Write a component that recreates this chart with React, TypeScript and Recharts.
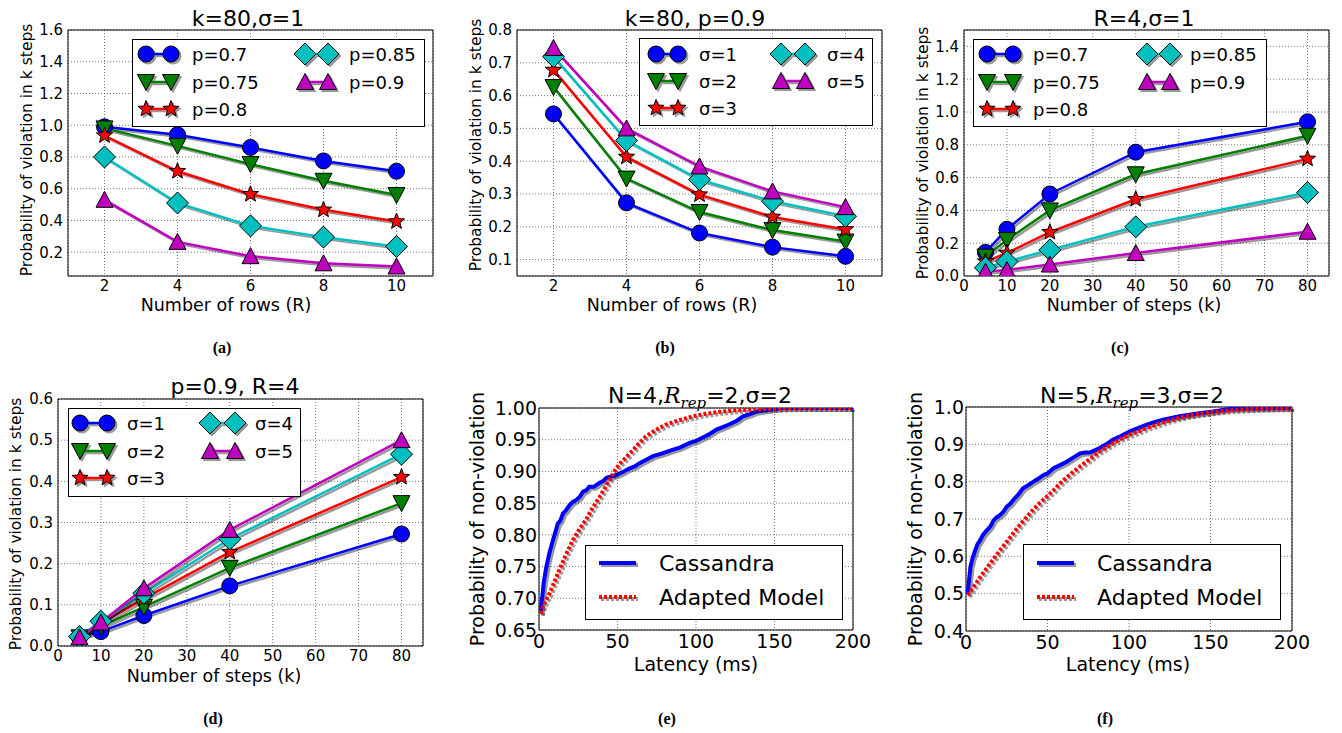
import React from 'react';
import { LineChart, Line, XAxis, YAxis, CartesianGrid, ReferenceArea, Legend } from 'recharts';

const FONT = "'DejaVu Sans', 'Noto Sans', sans-serif";
const BLUE = '#0000ff', GREEN = '#007f00', RED = '#ff0000', CYAN = '#00bfbf', MAGENTA = '#bf00bf';
const COLORS = [BLUE, GREEN, RED, CYAN, MAGENTA];
const SHAPES = ['o', 'v', '*', 'D', '^'];

// ---------- (a) k=80, sigma=1 ----------
const rowsR = [2, 4, 6, 8, 10];
const aP070 = [0.99, 0.94, 0.86, 0.775, 0.71];
const aP075 = [0.98, 0.87, 0.755, 0.65, 0.56];
const aP080 = [0.935, 0.71, 0.565, 0.467, 0.393];
const aP085 = [0.80, 0.51, 0.366, 0.295, 0.236];
const aP090 = [0.53, 0.265, 0.175, 0.13, 0.11];

// ---------- (b) k=80, p=0.9 ----------
const bS1 = [0.544, 0.273, 0.181, 0.138, 0.11];
const bS2 = [0.626, 0.347, 0.245, 0.19, 0.155];
const bS3 = [0.678, 0.413, 0.298, 0.23, 0.192];
const bS4 = [0.719, 0.463, 0.344, 0.278, 0.232];
const bS5 = [0.745, 0.50, 0.384, 0.308, 0.26];

// ---------- (c) R=4, sigma=1 ----------
const stepsK = [5, 10, 20, 40, 80];
const cP070 = [0.144, 0.285, 0.50, 0.755, 0.94];
const cP075 = [0.118, 0.22, 0.40, 0.62, 0.855];
const cP080 = [0.088, 0.14, 0.267, 0.468, 0.714];
const cP085 = [0.05, 0.088, 0.159, 0.30, 0.509];
const cP090 = [0.027, 0.037, 0.07, 0.14, 0.27];

// ---------- (d) p=0.9, R=4 ----------
const dS1 = [0.021, 0.035, 0.074, 0.146, 0.272];
const dS2 = [0.021, 0.047, 0.095, 0.19, 0.347];
const dS3 = [0.022, 0.055, 0.115, 0.228, 0.41];
const dS4 = [0.023, 0.06, 0.128, 0.26, 0.466];
const dS5 = [0.021, 0.057, 0.14, 0.282, 0.50];

const pLabels = ['p=0.7', 'p=0.75', 'p=0.8', 'p=0.85', 'p=0.9'];
const sLabels = ['σ=1', 'σ=2', 'σ=3', 'σ=4', 'σ=5'];

// ---------- (e) N=4, Rrep=2, sigma=2 ----------
const eCassandra = [
  [1, 0.676], [2, 0.70], [3, 0.725], [4.7, 0.75], [6.5, 0.77], [8.9, 0.792], [10.5, 0.805], [12, 0.818],
  [13.5, 0.822], [15.3, 0.834], [17, 0.838], [19.5, 0.847], [21.5, 0.852], [23.8, 0.855], [26, 0.86],
  [28, 0.868], [30, 0.87], [32, 0.876], [35, 0.876], [38.6, 0.882], [41, 0.885], [43, 0.89], [46, 0.892],
  [50, 0.895], [54, 0.9], [57.7, 0.905], [61, 0.908], [64, 0.913], [68, 0.918], [72.6, 0.924], [78, 0.928],
  [85, 0.934], [90, 0.938], [96, 0.945], [100, 0.948], [104, 0.953], [108, 0.958], [113, 0.966], [117, 0.97],
  [121, 0.974], [126, 0.98], [130, 0.987], [134, 0.99], [138, 0.994], [143, 0.996], [149, 0.998], [155, 1.0],
  [200, 1.0],
];
const eModel = [
  [1, 0.676], [3, 0.69], [6.8, 0.708], [10, 0.727], [13, 0.745], [17, 0.768], [21.7, 0.792], [26, 0.81],
  [30, 0.824], [34, 0.842], [38.6, 0.86], [42, 0.874], [45, 0.887], [48, 0.9], [51, 0.911], [55, 0.921],
  [60, 0.934], [64, 0.945], [68, 0.955], [74, 0.965], [81, 0.974], [87, 0.979], [94, 0.984], [100, 0.988],
  [106.6, 0.991], [115, 0.994], [123.6, 0.996], [138, 0.998], [150, 0.999], [170, 1.0], [200, 1.0],
];

// ---------- (f) N=5, Rrep=3, sigma=2 ----------
const fCassandra = [
  [1, 0.50], [2.7, 0.572], [4, 0.595], [5.7, 0.617], [7, 0.632], [8.8, 0.644], [10.5, 0.658], [12.9, 0.67],
  [15, 0.68], [17, 0.697], [19, 0.705], [21, 0.711], [23, 0.72], [25, 0.733], [27, 0.74], [29, 0.751],
  [32, 0.765], [35, 0.782], [38, 0.79], [41.4, 0.80], [44, 0.807], [47.6, 0.818], [50, 0.822], [53.7, 0.836],
  [58, 0.845], [62, 0.854], [66, 0.865], [70, 0.876], [73, 0.878], [76, 0.878], [79, 0.884], [82, 0.89],
  [86, 0.9], [90, 0.912], [95, 0.922], [100.6, 0.935], [105, 0.943], [111, 0.953], [116, 0.96], [121, 0.966],
  [131, 0.975], [141, 0.982], [151.6, 0.988], [162, 0.995], [175, 0.996], [200, 0.997],
];
const fModel = [
  [1, 0.496], [5, 0.52], [8.8, 0.545], [13, 0.57], [17, 0.594], [21, 0.617], [25, 0.639], [29, 0.662],
  [33, 0.684], [37, 0.704], [41, 0.724], [45, 0.742], [49.6, 0.76], [54, 0.778], [57.8, 0.796], [62, 0.812],
  [66, 0.827], [70, 0.841], [74, 0.854], [78, 0.867], [82, 0.881], [86, 0.892], [90, 0.903], [95, 0.915],
  [100.6, 0.926], [106, 0.935], [111, 0.944], [117, 0.953], [123, 0.962], [129, 0.969], [135, 0.975],
  [141, 0.98], [147.6, 0.984], [155, 0.988], [162, 0.991], [172, 0.994], [182, 0.996], [200, 0.997],
];
const cdfLabels = ['Cassandra', 'Adapted Model'];

// tick values
const xTicksR = [2, 4, 6, 8, 10];
const xTicksK = [0, 10, 20, 30, 40, 50, 60, 70, 80];
const xTicksLat = [0, 50, 100, 150, 200];
const yTicksA = [0.2, 0.4, 0.6, 0.8, 1.0, 1.2, 1.4, 1.6];
const yTicksB = [0.1, 0.2, 0.3, 0.4, 0.5, 0.6, 0.7, 0.8];
const yTicksC = [0, 0.2, 0.4, 0.6, 0.8, 1.0, 1.2, 1.4];
const yTicksD = [0, 0.1, 0.2, 0.3, 0.4, 0.5, 0.6];
const yTicksE = [0.65, 0.7, 0.75, 0.8, 0.85, 0.9, 0.95, 1.0];
const yTicksF = [0.4, 0.5, 0.6, 0.7, 0.8, 0.9, 1.0];

const rowsOf = (xs: number[], series: number[][]) =>
  xs.map((x, i) => {
    const r: any = { x };
    series.forEach((s, j) => { r['s' + j] = s[i]; });
    return r;
  });
const ptsOf = (arr: number[][]) => arr.map(([x, y]) => ({ x, y }));

function Marker({ shape, cx, cy, color }: any) {
  const st = { fill: color, stroke: '#000', strokeWidth: 1 };
  if (shape === 'o') return <circle cx={cx} cy={cy} r={8} {...st} />;
  if (shape === 'v') return <polygon points={`${cx - 8.5},${cy - 7.5} ${cx + 8.5},${cy - 7.5} ${cx},${cy + 8.5}`} {...st} />;
  if (shape === '^') return <polygon points={`${cx - 8.5},${cy + 7.5} ${cx + 8.5},${cy + 7.5} ${cx},${cy - 8.5}`} {...st} />;
  if (shape === 'D') return <polygon points={`${cx},${cy - 11} ${cx + 11},${cy} ${cx},${cy + 11} ${cx - 11},${cy}`} {...st} />;
  const pts: string[] = [];
  for (let i = 0; i < 10; i++) {
    const r = i % 2 === 0 ? 8.5 : 3.6;
    const a = -Math.PI / 2 + (i * Math.PI) / 5;
    pts.push(`${cx + r * Math.cos(a)},${cy + r * Math.sin(a)}`);
  }
  return <polygon points={pts.join(' ')} {...st} />;
}

const YW = 50, ML = 4, MR = 12, MT = 12, XH = 26, MB = 4;

type Plot = { l: number; t: number; w: number; h: number };

function MarkerLegend({ box, cols, rows, labels }: any) {
  return (
    <svg width={box.w + 2} height={box.h + 2} style={{ display: 'block', overflow: 'visible' }}>
      <rect x={0.5} y={0.5} width={box.w} height={box.h} fill="#fff" stroke="#000" strokeWidth={1} />
      {labels.map((lab: string, i: number) => {
        const c = cols[i < 3 ? 0 : 1];
        const y = rows[i < 3 ? i : i - 3];
        return (
          <g key={i}>
            <g style={{ filter: 'url(#shd)' }}>
              <line x1={c.m1} x2={c.m2} y1={y} y2={y} stroke={COLORS[i]} strokeWidth={2.5} />
              <Marker shape={SHAPES[i]} cx={c.m1} cy={y} color={COLORS[i]} />
              <Marker shape={SHAPES[i]} cx={c.m2} cy={y} color={COLORS[i]} />
            </g>
            <text x={c.tx} y={y + 6.5} fontSize={18} fontFamily={FONT} fill="#000">{lab}</text>
          </g>
        );
      })}
    </svg>
  );
}

function LineLegend({ box, rows }: any) {
  return (
    <svg width={box.w + 2} height={box.h + 2} style={{ display: 'block', overflow: 'visible' }}>
      <rect x={0.5} y={0.5} width={box.w} height={box.h} fill="#fff" stroke="#000" strokeWidth={1} />
      {cdfLabels.map((lab, i) => (
        <g key={i}>
          <g style={{ filter: 'url(#shd)' }}>
            <line x1={14} x2={51} y1={rows[i]} y2={rows[i]} stroke={i === 0 ? BLUE : RED} strokeWidth={4}
              strokeDasharray={i === 0 ? undefined : '3 2'} />
          </g>
          <text x={74} y={rows[i] + 8} fontSize={22} fontFamily={FONT} fill="#000">{lab}</text>
        </g>
      ))}
    </svg>
  );
}

function markerChart(opts: {
  plot: Plot; xs: number[]; series: number[][]; xDomain: number[]; xTicks: number[];
  yDomain: number[]; yTicks: number[]; legendBox: any; cols: any[]; rows: number[]; labels: string[];
}) {
  const { plot, xs, series, xDomain, xTicks, yDomain, yTicks, legendBox, cols, rows, labels } = opts;
  const left = plot.l - YW - ML, top = plot.t - MT;
  const width = plot.w + YW + ML + MR, height = plot.h + MT + XH + MB;
  const data = rowsOf(xs, series);
  const tick = { fill: '#000', fontSize: 15, fontFamily: FONT };
  return (
    <div style={{ position: 'absolute', left, top }}>
      <LineChart width={width} height={height} data={data} margin={{ top: MT, right: MR, bottom: MB, left: ML }}>
        <CartesianGrid stroke="#555" strokeDasharray="1 2" strokeWidth={0.8} />
        <XAxis dataKey="x" type="number" domain={xDomain} ticks={xTicks} allowDataOverflow interval={0}
          height={XH} tickLine={false} axisLine={false} tickSize={2} tickMargin={2} tick={tick} />
        <YAxis type="number" domain={yDomain} ticks={yTicks} allowDataOverflow interval={0} width={YW}
          tickLine={false} axisLine={false} tickSize={3} tickMargin={2} tick={tick}
          tickFormatter={(v: number) => v.toFixed(1)} />
        {series.map((_, j) => (
          <Line key={j} type="linear" dataKey={'s' + j} stroke={COLORS[j]} strokeWidth={2.5}
            isAnimationActive={false} activeDot={false}
            dot={(p: any) => <Marker key={'d' + j + '-' + p.index} shape={SHAPES[j]} cx={p.cx} cy={p.cy} color={COLORS[j]} />} />
        ))}
        <ReferenceArea x1={xDomain[0]} x2={xDomain[1]} y1={yDomain[0]} y2={yDomain[1]} fill="none" fillOpacity={0}
          stroke="#000" strokeWidth={1} />
        <Legend layout="horizontal" verticalAlign="middle" align="center"
          wrapperStyle={{ left: legendBox.x - left, top: legendBox.y - top, width: legendBox.w + 2, height: legendBox.h + 2 }}
          content={() => <MarkerLegend box={legendBox} cols={cols} rows={rows} labels={labels} />} />
      </LineChart>
    </div>
  );
}

function cdfChart(opts: { plot: Plot; cass: number[][]; model: number[][]; yDomain: number[]; yTicks: number[]; digits: number; legendBox: any; rows: number[] }) {
  const { plot, cass, model, yDomain, yTicks, digits, legendBox, rows } = opts;
  const ywE = YW + 10, mrE = 36;
  const left = plot.l - ywE - ML, top = plot.t - MT;
  const width = plot.w + ywE + ML + mrE, height = plot.h + MT + XH + MB;
  const tick = { fill: '#000', fontSize: 19, fontFamily: FONT };
  return (
    <div style={{ position: 'absolute', left, top }}>
      <LineChart width={width} height={height} margin={{ top: MT, right: mrE, bottom: MB, left: ML }}>
        <CartesianGrid stroke="#555" strokeDasharray="1 2" strokeWidth={0.8} />
        <XAxis dataKey="x" type="number" domain={[0, 200]} ticks={xTicksLat} allowDataOverflow interval={0}
          height={XH} tickLine={false} axisLine={false} tickSize={3} tickMargin={2} tick={tick} />
        <YAxis type="number" domain={yDomain} ticks={yTicks} allowDataOverflow interval={0} width={ywE}
          tickLine={false} axisLine={false} tickSize={1} tickMargin={1} tick={tick}
          tickFormatter={(v: number) => v.toFixed(digits)} />
        <Line data={ptsOf(cass)} dataKey="y" type="linear" stroke={BLUE} strokeWidth={4} dot={false}
          activeDot={false} isAnimationActive={false} />
        <Line data={ptsOf(model)} dataKey="y" type="linear" stroke={RED} strokeWidth={4} strokeDasharray="3 2"
          dot={false} activeDot={false} isAnimationActive={false} />
        <ReferenceArea x1={0} x2={200} y1={yDomain[0]} y2={yDomain[1]} fill="none" fillOpacity={0}
          stroke="#000" strokeWidth={1} />
        <Legend layout="horizontal" verticalAlign="middle" align="center"
          wrapperStyle={{ left: legendBox.x - left, top: legendBox.y - top, width: legendBox.w + 2, height: legendBox.h + 2 }}
          content={() => <LineLegend box={legendBox} rows={rows} />} />
      </LineChart>
    </div>
  );
}

const T = (p: any) => <text fontFamily={FONT} fill="#000" textAnchor="middle" {...p} />;
const YL = ({ x, y, fs, children }: any) => (
  <text x={x} y={y} fontSize={fs} fontFamily={FONT} fill="#000" textAnchor="middle" transform={`rotate(-90 ${x} ${y})`}>{children}</text>
);
const CAP = ({ x, y, children }: any) => (
  <text x={x} y={y} fontSize={16} fontFamily="'Liberation Serif', 'Times New Roman', serif" fontWeight="bold" fill="#000" textAnchor="middle">{children}</text>
);

const Rrep = ({ n }: { n: string }) => (
  <>
    <tspan fontFamily="'DejaVu Serif', serif" fontStyle="italic">R</tspan>
    <tspan fontFamily="'DejaVu Serif', serif" fontStyle="italic" fontSize={15} dy={5}>rep</tspan>
    <tspan dy={-5}>{'=' + n + ',σ=2'}</tspan>
  </>
);

export default function App() {
  const ylab = 'Probability of violation in k steps';
  const ylab2 = 'Probability of non-violation';
  return (
    <div style={{ position: 'absolute', left: 0, top: 0, width: 1342, height: 733, background: '#fff', overflow: 'hidden' }}>
      <style>{`.recharts-line { filter: url(#shd); }`}</style>
      <svg width={1342} height={733} style={{ position: 'absolute', left: 0, top: 0 }}>
        <defs>
          <filter id="shd" filterUnits="userSpaceOnUse" x={-2000} y={-2000} width={6000} height={6000}>
            <feOffset in="SourceAlpha" dx={1.8} dy={1.8} result="off" />
            <feFlood floodColor="#000" floodOpacity={0.4} result="col" />
            <feComposite in="col" in2="off" operator="in" result="sh" />
            <feMerge>
              <feMergeNode in="sh" />
              <feMergeNode in="SourceGraphic" />
            </feMerge>
          </filter>
        </defs>
        {/* titles */}
        <T x={248} y={26} fontSize={22}>k=80,σ=1</T>
        <T x={695} y={26} fontSize={22}>k=80, p=0.9</T>
        <T x={1144} y={26} fontSize={22}>R=4,σ=1</T>
        <T x={235} y={394} fontSize={22}>p=0.9, R=4</T>
        <T x={700} y={403} fontSize={22}>N=4,<Rrep n="2" /></T>
        <T x={1132} y={403} fontSize={22}>N=5,<Rrep n="3" /></T>
        {/* x labels */}
        <T x={226} y={311} fontSize={17.5}>Number of rows (R)</T>
        <T x={672} y={311} fontSize={17.5}>Number of rows (R)</T>
        <T x={1134} y={311} fontSize={17.5}>Number of steps (k)</T>
        <T x={214} y={682} fontSize={17.5}>Number of steps (k)</T>
        <T x={696} y={671} fontSize={19}>Latency (ms)</T>
        <T x={1128} y={671} fontSize={19}>Latency (ms)</T>
        {/* y labels */}
        <YL x={32} y={150} fs={15.5}>{ylab}</YL>
        <YL x={481} y={145} fs={15.5}>{ylab}</YL>
        <YL x={928} y={153} fs={15.5}>{ylab}</YL>
        <YL x={21} y={524} fs={15.5}>{ylab}</YL>
        <YL x={484} y={519} fs={19}>{ylab2}</YL>
        <YL x={922} y={519} fs={19}>{ylab2}</YL>
        {/* captions */}
        <CAP x={222} y={353}>(a)</CAP>
        <CAP x={665} y={353}>(b)</CAP>
        <CAP x={1120} y={353}>(c)</CAP>
        <CAP x={213} y={724}>(d)</CAP>
        <CAP x={667} y={724}>(e)</CAP>
        <CAP x={1105} y={724}>(f)</CAP>
      </svg>

      {markerChart({
        plot: { l: 68, t: 30, w: 365, h: 246 }, xs: rowsR, series: [aP070, aP075, aP080, aP085, aP090],
        xDomain: [1, 11], xTicks: xTicksR, yDomain: [0.05, 1.6], yTicks: yTicksA,
        legendBox: { x: 132, y: 39, w: 292, h: 87 },
        cols: [{ m1: 14, m2: 39, tx: 60 }, { m1: 173, m2: 196, tx: 217 }], rows: [15, 43, 70], labels: pLabels,
      })}
      {markerChart({
        plot: { l: 517, t: 30, w: 365, h: 246 }, xs: rowsR, series: [bS1, bS2, bS3, bS4, bS5],
        xDomain: [1, 11], xTicks: xTicksR, yDomain: [0.05, 0.8], yTicks: yTicksB,
        legendBox: { x: 639, y: 38, w: 233, h: 87 },
        cols: [{ m1: 17, m2: 39, tx: 60 }, { m1: 142, m2: 166, tx: 188 }], rows: [16, 43, 70], labels: sLabels,
      })}
      {markerChart({
        plot: { l: 964, t: 30, w: 365, h: 246 }, xs: stepsK, series: [cP070, cP075, cP080, cP085, cP090],
        xDomain: [0, 85], xTicks: xTicksK, yDomain: [0, 1.5], yTicks: yTicksC,
        legendBox: { x: 973, y: 39, w: 293, h: 87 },
        cols: [{ m1: 14, m2: 40, tx: 60 }, { m1: 174, m2: 197, tx: 217 }], rows: [15, 43, 70], labels: pLabels,
      })}
      {markerChart({
        plot: { l: 58, t: 399, w: 365, h: 247 }, xs: stepsK, series: [dS1, dS2, dS3, dS4, dS5],
        xDomain: [0, 85], xTicks: xTicksK, yDomain: [0, 0.6], yTicks: yTicksD,
        legendBox: { x: 68, y: 408, w: 232, h: 88 },
        cols: [{ m1: 12, m2: 39, tx: 59 }, { m1: 142, m2: 167, tx: 187 }], rows: [15, 43, 70], labels: sLabels,
      })}
      {cdfChart({
        plot: { l: 539, t: 408, w: 314, h: 222 }, cass: eCassandra, model: eModel,
        yDomain: [0.65, 1.0], yTicks: yTicksE, digits: 2,
        legendBox: { x: 585, y: 545, w: 257, h: 74 }, rows: [18, 52],
      })}
      {cdfChart({
        plot: { l: 966, t: 407, w: 326, h: 224 }, cass: fCassandra, model: fModel,
        yDomain: [0.4, 1.0], yTicks: yTicksF, digits: 1,
        legendBox: { x: 1023, y: 544, w: 257, h: 75 }, rows: [19, 53],
      })}
    </div>
  );
}
